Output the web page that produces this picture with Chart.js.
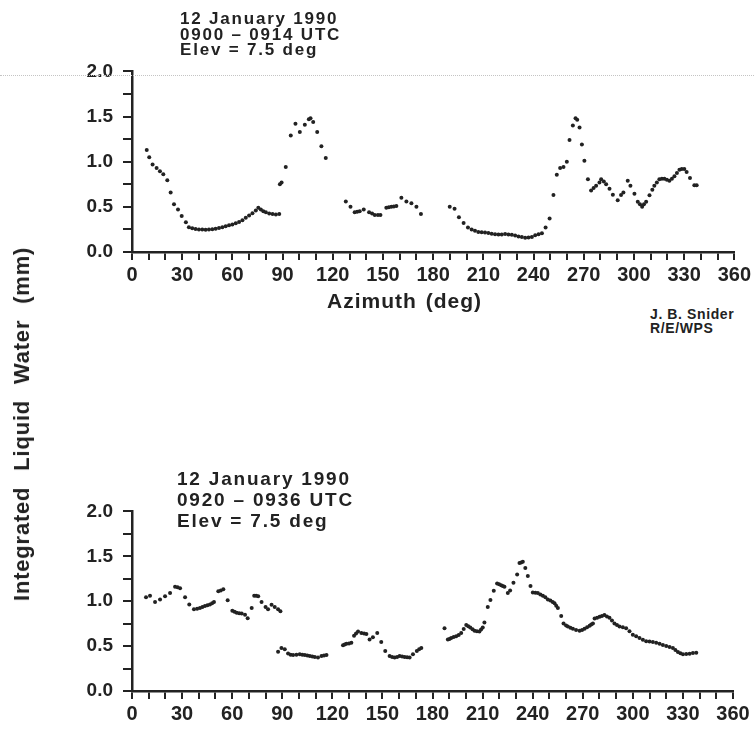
<!DOCTYPE html>
<html>
<head>
<meta charset="utf-8">
<script src="https://cdn.jsdelivr.net/npm/chart.js@4.4.1/dist/chart.umd.min.js"></script>
<style>
  body { margin: 0; background: #fff; }
  #wrap { position: relative; width: 754px; height: 734px; overflow: hidden; font-family: "Liberation Sans", Arial, sans-serif; color: #222; }
  canvas { position: absolute; left: 0; }
  .title { position: absolute; font-weight: bold; white-space: pre; }
  #t1 { left: 180px; top: 11px; font-size: 17px; line-height: 15.5px; letter-spacing: 1.8px; }
  #t2 { left: 177px; top: 468px; font-size: 19px; line-height: 21px; letter-spacing: 1.8px; }
  #xlab { position: absolute; left: 327px; top: 289px; font-size: 21px; font-weight: bold; letter-spacing: 1px; word-spacing: 2px; }
  #sig { position: absolute; left: 650px; top: 307px; font-size: 14px; font-weight: bold; line-height: 14px; white-space: pre; letter-spacing: 0.6px; }
  #ylab { position: absolute; left: 22px; top: 424px; transform: translate(-50%, -50%) rotate(-90deg); font-size: 22px; font-weight: bold; white-space: nowrap; letter-spacing: 0.8px; word-spacing: 9px; }
  #scan { position: absolute; left: 0; top: 75px; width: 754px; border-top: 1px dotted #c4c4c4; }
</style>
</head>
<body>
<div id="wrap">
  <canvas id="topChart" width="754" height="250" style="top:50px"></canvas>
  <canvas id="botChart" width="754" height="244" style="top:490px"></canvas>
  <div id="scan"></div>
  <div class="title" id="t1">12 January 1990
0900 – 0914 UTC
Elev = 7.5 deg</div>
  <div class="title" id="t2">12 January 1990
0920 – 0936 UTC
Elev = 7.5 deg</div>
  <div id="xlab">Azimuth (deg)</div>
  <div id="sig">J. B. Snider
R/E/WPS</div>
  <div id="ylab">Integrated Liquid Water (mm)</div>
</div>
<script>
// azimuth (deg), integrated liquid water (mm)
const topScan = [
  [8.8,1.13],[10.3,1.05],[12.3,0.97],[14.7,0.93],[16.7,0.895],[18.7,0.86],[21.1,0.795],[23.1,0.66],
  [25.1,0.53],[27.5,0.47],[29.7,0.40],[32.2,0.33],
  [34,0.275],[36,0.262],[38,0.255],[40,0.25],[42,0.248],[44,0.246],[46,0.248],[48,0.252],[50,0.258],
  [52,0.265],[54,0.275],[56,0.285],[58,0.295],[60,0.305],[62,0.318],[64,0.332],[66,0.352],[68,0.378],
  [70,0.405],[72,0.43],[74,0.46],[75.5,0.49],[77,0.47],[78.5,0.45],[80,0.44],[82,0.425],[84,0.42],
  [86,0.414],[88,0.42],
  [88.4,0.75],[89.4,0.77],[91.9,0.94],[94.9,1.29],[97.7,1.42],[100.3,1.33],[103.3,1.41],[105.7,1.47],
  [106.7,1.48],[108.3,1.44],[110.7,1.33],[113.2,1.17],[115.8,1.04],
  [127.8,0.56],[130.6,0.50],[133.1,0.44],[134.6,0.445],[136.1,0.45],[138.5,0.47],[141.7,0.44],
  [143.5,0.425],[145.1,0.41],[147,0.41],[148.5,0.41],[152,0.49],[153.5,0.495],[155,0.50],[156.5,0.505],
  [158,0.51],[161,0.60],[164,0.56],[167,0.54],[170,0.50],[172.7,0.42],
  [189.9,0.50],[192.8,0.48],[195.4,0.385],[198.2,0.32],[200.8,0.27],
  [203,0.25],[205,0.235],[207,0.222],[209,0.218],[211,0.217],[213,0.21],[215,0.202],[217,0.197],
  [219,0.193],[221,0.195],[223,0.198],[225,0.195],[227,0.19],[229,0.182],[231,0.173],[233,0.165],
  [235,0.158],[237,0.16],[239,0.165],[241,0.185],[243,0.197],[245,0.207],
  [247.2,0.27],[249.6,0.37],[251.9,0.63],[253.9,0.855],[255.9,0.93],[257.9,0.94],[259.9,1.0],
  [261.5,1.24],[263.5,1.40],[265.1,1.48],[266.1,1.465],[267.5,1.38],[268.9,1.19],[270.4,1.01],
  [272.5,0.805],
  [274.4,0.68],[275.9,0.71],[277.4,0.735],[279.4,0.77],[280.4,0.805],[282,0.78],[283.4,0.75],
  [285.4,0.70],[287.4,0.635],[290.3,0.574],[292.3,0.63],[293.7,0.66],[296.3,0.79],[297.9,0.735],
  [300.3,0.645],[302.3,0.556],[303.6,0.53],[304.9,0.50],[306,0.53],[307.3,0.556],[309.3,0.628],
  [311,0.69],[312.2,0.735],[313.7,0.77],[315.2,0.805],[316.7,0.81],[318.2,0.81],[319.7,0.80],
  [321.2,0.79],[322.7,0.81],[324.2,0.84],[325.7,0.875],[327.2,0.91],[328.6,0.92],[330.1,0.92],
  [331.5,0.885],[333.5,0.82],[336.1,0.74],[337.5,0.74]
];

const bottomScan = [
  [8.4,1.043],[10.8,1.062],[13.8,0.99],[16.8,1.02],[19.8,1.054],[22.8,1.09],[25.8,1.16],[27.3,1.155],
  [28.8,1.145],[31.8,1.043],[34.3,0.964],[37.1,0.91],[39,0.917],[40.7,0.924],[42.2,0.935],[43.7,0.946],
  [45.2,0.955],[46.7,0.964],[48,0.977],[49.1,0.99],[51.7,1.11],[53.2,1.12],[54.7,1.134],[57.3,1.01],
  [60.1,0.895],[61.4,0.883],[62.7,0.87],[64.2,0.866],[65.7,0.862],[67.7,0.85],[69.3,0.81],[71.7,0.924],
  [73.2,1.062],[74.4,1.06],[75.6,1.054],[77.6,0.99],[80,0.935],[81.5,0.91],[83.6,0.96],[85.5,0.935],
  [87.5,0.91],[88.9,0.888],
  [87.5,0.438],[89.5,0.48],[91.5,0.464],[93.5,0.417],[95,0.405],[96.5,0.40],[98.5,0.405],[100.5,0.41],
  [102,0.405],[103.5,0.40],[105,0.395],[106.5,0.39],[108,0.385],[109.5,0.38],[111.4,0.373],[113.5,0.39],
  [115,0.395],[116.5,0.40],
  [126.4,0.51],[127.4,0.518],[128.4,0.525],[130,0.53],[131.4,0.536],[133,0.616],[134.2,0.64],
  [135.4,0.663],[137.4,0.645],[139,0.64],[140.4,0.634],[142.3,0.573],[144.3,0.598],[146.9,0.645],
  [149.3,0.547],[151.7,0.446],[154.3,0.39],[155.8,0.38],[157.3,0.373],[158.8,0.38],[160.3,0.39],
  [161.8,0.385],[163.3,0.38],[164.8,0.375],[166.3,0.373],[168.3,0.41],[170.6,0.446],[172,0.465],
  [173.3,0.48],
  [187.2,0.70],[189.2,0.573],[190.2,0.58],[191.2,0.59],[192.7,0.60],[194.2,0.61],[195.7,0.625],
  [197.2,0.645],[198.7,0.69],[200.2,0.736],[201.4,0.72],[202.6,0.706],[204,0.688],[205.2,0.67],
  [206.6,0.665],[208.1,0.663],[209.1,0.685],[210.1,0.706],[211.1,0.764],[213.1,0.935],[214.7,1.014],
  [216.7,1.116],[218.7,1.196],[219.9,1.19],[221.1,1.177],[222.1,1.17],[223.1,1.16],[225.1,1.09],
  [226.5,1.12],[228.5,1.206],[230.7,1.297],[232.1,1.424],[233.1,1.432],[234.1,1.438],[235.6,1.37],
  [237.1,1.28],[238.7,1.17],[240.1,1.098],[241.6,1.095],[243.1,1.09],[244.6,1.075],[246.1,1.06],
  [247.6,1.043],[249.1,1.02],[250.6,1.007],[252,0.99],[253.1,0.978],[254.1,0.95],[255.1,0.924],
  [257.1,0.834],[258.5,0.753],[260,0.73],[261.1,0.717],[262.6,0.705],[264.1,0.692],[266,0.68],
  [268.1,0.67],[269.6,0.68],[271.1,0.692],[272.6,0.71],[274.1,0.728],[275.1,0.74],[276.1,0.753],
  [277.1,0.808],[278.6,0.817],[280.1,0.826],[281.5,0.835],[283,0.845],[284.5,0.83],[286,0.815],
  [287.5,0.785],[289,0.753],[290.5,0.735],[292,0.717],[294,0.71],[296,0.70],[298,0.665],[300,0.627],
  [302,0.61],[304,0.59],[306,0.572],[308,0.554],[310,0.55],[312,0.547],[314,0.536],[316,0.525],
  [318,0.512],[320,0.50],[322,0.49],[324,0.48],[325.5,0.457],[327,0.435],[328.5,0.42],[330,0.41],
  [332,0.413],[334,0.416],[336,0.422],[338,0.427]
];

const xLabelEvery = 30;
const yLabelEvery = 0.5;
const ink = '#222';

function makeChart(id, scan, pad, xHeight) {
  const ctx = document.getElementById(id).getContext('2d');
  return new Chart(ctx, {
    type: 'scatter',
    data: {
      datasets: [{
        data: scan.map(([x, y]) => ({ x, y })),
        pointRadius: 2,
        pointBackgroundColor: ink,
        pointBorderWidth: 0,
        showLine: false,
      }],
    },
    options: {
      responsive: false,
      animation: false,
      devicePixelRatio: 1,
      layout: { padding: pad },
      plugins: { legend: { display: false }, tooltip: { enabled: false } },
      scales: {
        x: {
          type: 'linear',
          min: 0,
          max: 360,
          afterFit: (s) => { s.height = xHeight; },
          border: { display: true, color: ink, width: 2.5 },
          grid: { drawOnChartArea: false, drawTicks: true, tickLength: 8, color: ink, lineWidth: 2 },
          ticks: {
            stepSize: 10,
            autoSkip: false,
            maxRotation: 0,
            padding: 3,
            color: ink,
            font: { family: 'Liberation Sans', size: 20, weight: 'bold' },
            callback: (v) => (v % xLabelEvery === 0 ? String(v) : ''),
          },
        },
        y: {
          min: 0,
          max: 2,
          afterFit: (s) => { s.width = 132; },
          border: { display: true, color: ink, width: 2.5 },
          grid: { drawOnChartArea: false, drawTicks: true, tickLength: 9, color: ink, lineWidth: 2 },
          ticks: {
            stepSize: 0.25,
            autoSkip: false,
            padding: 10,
            color: ink,
            font: { family: 'Liberation Sans', size: 19, weight: 'bold' },
            callback: (v) => {
              const k = v / yLabelEvery;
              return Math.abs(k - Math.round(k)) < 1e-6 ? v.toFixed(1) : '';
            },
          },
        },
      },
    },
  });
}

makeChart('topChart', topScan, { top: 15, right: 19, left: 0, bottom: 0 }, 48);
makeChart('botChart', bottomScan, { top: 17, right: 21, left: 0, bottom: 0 }, 43);
</script>
</body>
</html>
